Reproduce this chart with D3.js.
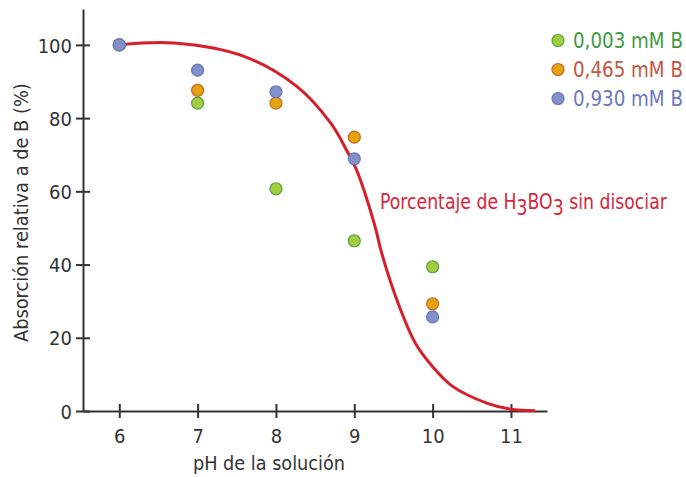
<!DOCTYPE html>
<meta charset="utf-8">
<style>
  body { margin: 0; background: #fff; }
  svg text { font-family: "Liberation Sans Narrow", "DejaVu Sans Condensed", sans-serif; }
  .axis path, .axis line { fill: none; stroke: #333; stroke-width: 2px; }
  .axis text { font-size: 20px; fill: #333; }
</style>
<body>
<script src="https://cdn.jsdelivr.net/npm/d3@7"></script>
<script>
  // pH values where the points were measured
  var phValues = [6, 7, 8, 9, 10];
  var green = [100, 84.1, 60.7, 46.5, 39.4];   // 0,003 mM B
  var orange = [100, 87.6, 84.1, 74.8, 29.3];  // 0,465 mM B
  var blue = [100, 93.1, 87.2, 68.9, 25.7];    // 0,930 mM B

  // red curve
  var curvePh = [6.0, 6.7, 7.6, 8.27, 8.7, 8.9, 9.03, 9.15, 9.27, 9.35, 9.56, 9.78, 10.0, 10.25, 10.7, 11.0, 11.31];
  var curveVal = [100, 100.5, 96.8, 88.6, 78.6, 71.3, 65.8, 58.6, 50, 43.1, 29.4, 18.5, 12.1, 6.8, 2.1, 0.5, 0.1];

  var xTicks = [6, 7, 8, 9, 10, 11];
  var yTicks = [0, 20, 40, 60, 80, 100];

  var seriesNames = ["0,003 mM B", "0,465 mM B", "0,930 mM B"];
  var fills = ["#a3cd3e", "#e1a40e", "#8190c9"];
  var strokes = ["#4ea542", "#c9662c", "#6776b8"];
  var textColors = ["#3f9a43", "#c4553f", "#6c78bc"];

  var width = 686, height = 477;
  var svg = d3.select("body").append("svg")
    .attr("width", width)
    .attr("height", height);

  var x = d3.scaleLinear().domain([5.537, 11.46]).range([83, 547]);
  var y = d3.scaleLinear().domain([0, 109.8]).range([411, 9]);

  // squeeze a text horizontally so it spans w pixels (the original font is condensed)
  function squeeze(g, w) {
    var t = g.select("text");
    var len = t.node().getComputedTextLength();
    t.attr("transform", "scale(" + (w / len) + ",1)");
  }

  // axes
  var xAxis = svg.append("g")
    .attr("class", "axis")
    .attr("transform", "translate(0," + y(0) + ")")
    .call(d3.axisBottom(x).tickValues(xTicks).tickSizeInner(7).tickSizeOuter(0).tickFormat(d3.format("d")));
  xAxis.selectAll(".tick line").attr("y1", -7).attr("y2", 7);
  xAxis.selectAll(".tick text").attr("y", 32).attr("dy", 0);

  var yAxis = svg.append("g")
    .attr("class", "axis")
    .attr("transform", "translate(" + x.range()[0] + ",0)")
    .call(d3.axisLeft(y).tickValues(yTicks).tickSizeInner(7).tickSizeOuter(0));
  yAxis.selectAll(".tick line").attr("x1", -7).attr("x2", 7);
  yAxis.selectAll(".tick text").attr("x", -11).attr("dy", "0.36em");

  // axis titles
  var xt = svg.append("g").attr("transform", "translate(193,470)");
  xt.append("text")
    .style("font-size", "20px").style("fill", "#333")
    .text("pH de la solución");
  squeeze(xt, 152);

  var yt = svg.append("g").attr("transform", "translate(28,342) rotate(-90)");
  yt.append("text")
    .style("font-size", "20px").style("fill", "#333")
    .text("Absorción relativa a de B (%)");
  squeeze(yt, 259);

  // curve
  var curveData = curvePh.map(function(p, i) { return [p, curveVal[i]]; });
  svg.append("path")
    .datum(curveData)
    .attr("d", d3.line()
      .x(function(d) { return x(d[0]); })
      .y(function(d) { return y(d[1]); })
      .curve(d3.curveCatmullRom.alpha(0.5)))
    .style("fill", "none")
    .style("stroke", "#d71f2b")
    .style("stroke-width", "3px");

  var lg = svg.append("g").attr("transform", "translate(380,209)");
  var label = lg.append("text")
    .style("font-size", "21px").style("fill", "#d7263a");
  label.append("tspan").text("Porcentaje de H");
  label.append("tspan").attr("dy", 6).text("3");
  label.append("tspan").attr("dy", -6).text("BO");
  label.append("tspan").attr("dy", 6).text("3");
  label.append("tspan").attr("dy", -6).text(" sin disociar");
  squeeze(lg, 287);

  // points
  var allSeries = [green, orange, blue];
  allSeries.forEach(function(vals, s) {
    svg.append("g").selectAll("circle")
      .data(vals)
      .join("circle")
      .attr("cx", function(d, i) { return x(phValues[i]); })
      .attr("cy", function(d) { return y(d); })
      .attr("r", 6)
      .style("fill", fills[s])
      .style("stroke", strokes[s])
      .style("stroke-width", "1.2px");
  });

  // legend
  var legend = svg.append("g");
  seriesNames.forEach(function(name, i) {
    var ly = 40.5 + i * 29;
    legend.append("circle")
      .attr("cx", 558).attr("cy", ly).attr("r", 6)
      .style("fill", fills[i]).style("stroke", strokes[i]).style("stroke-width", "1.2px");
    var item = legend.append("g").attr("transform", "translate(573," + ly + ")");
    item.append("text")
      .attr("dy", "0.36em")
      .style("font-size", "21px").style("fill", textColors[i])
      .text(name);
    squeeze(item, 110);
  });
</script>
</body>
